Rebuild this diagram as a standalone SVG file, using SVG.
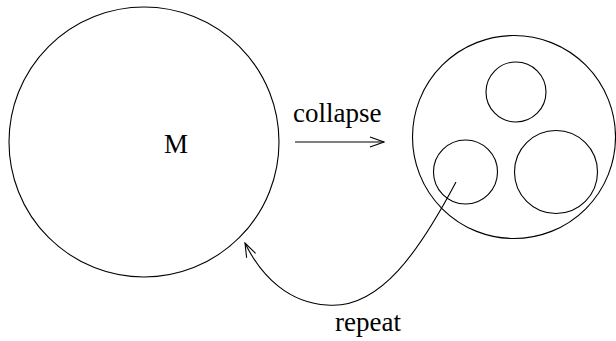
<svg xmlns="http://www.w3.org/2000/svg" width="616" height="341" viewBox="0 0 616 341">
<style>
.c{fill:none;stroke:#000;stroke-width:1.1}
.t{font-family:"Liberation Serif","Times New Roman",serif;font-size:27px;fill:#000}
</style>
<defs>
<marker id="ah" markerWidth="16" markerHeight="12" refX="15" refY="6" orient="auto" markerUnits="userSpaceOnUse">
<path d="M1,1 L15,6 L1,11" fill="none" stroke="#000" stroke-width="1.1"/>
</marker>
</defs>
<rect width="616" height="341" fill="#fff"/>
<g id="M">
<circle class="c" cx="144" cy="142" r="135"/>
<text class="t" x="176" y="153" text-anchor="middle">M</text>
</g>
<g id="collapsed">
<circle class="c" cx="514" cy="137" r="101.5"/>
<circle class="c" cx="516" cy="92" r="30"/>
<circle class="c" cx="465.5" cy="172" r="32"/>
<circle class="c" cx="556" cy="172" r="41.5"/>
</g>
<g id="connectors">
<line class="c" x1="295" y1="142" x2="384" y2="142" marker-end="url(#ah)"/>
<text class="t" x="293" y="122">collapse</text>
<path class="c" d="M456,182 C420,250 380,310 327,305 C290,303 262,278 245,243" marker-end="url(#ah)"/>
<text class="t" x="335" y="331">repeat</text>
</g>
</svg>
